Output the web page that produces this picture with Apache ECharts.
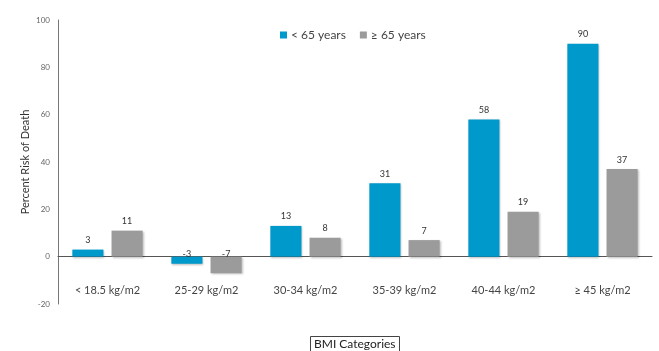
<!DOCTYPE html>
<html><head><meta charset="utf-8">
<script src="https://cdn.jsdelivr.net/npm/echarts@6/dist/echarts.min.js"></script>
<style>html,body{margin:0;padding:0;background:#fff}#c{width:659px;height:351px}</style>
</head><body><div id="c"></div>
<script>
const categories = ['< 18.5 kg/m2','25-29 kg/m2','30-34 kg/m2','35-39 kg/m2','40-44 kg/m2','≥ 45 kg/m2'];
const under65 = [3,-3,13,31,58,90];
const over65 = [11,-7,8,7,19,37];
const yTicks = [-20,0,20,40,60,80,100];
const seriesNames = ['< 65 years','≥ 65 years'];

const font = 'Lato, "Open Sans", sans-serif';
function mk(vals){
  return vals.map(v => v < 0 ? {value:v, label:{position:'top', distance:-2}} : v);
}
const chart = echarts.init(document.getElementById('c'));
chart.setOption({
  animation:false,
  textStyle:{fontFamily:font},
  title:{text:'BMI Categories', left:310, top:336, padding:[2,4,2,4], borderWidth:1, borderColor:'#444',
    textStyle:{fontSize:12, fontWeight:'normal', color:'#222', fontFamily:font}},
  legend:{data:seriesNames, left:275, top:24, itemWidth:7, itemHeight:7, itemGap:14, icon:'rect',
    textStyle:{fontSize:12, color:'#444', fontFamily:font, padding:[0,0,0,-1]}},
  grid:{left:58, right:7, top:20, bottom:47, containLabel:false, outerBoundsMode:'none'},
  xAxis:[
    {type:'category', data:categories, axisLine:{onZero:true, lineStyle:{color:'#555', width:1}},
     axisTick:{show:false}, axisLabel:{show:false}},
    {type:'category', data:categories, position:'bottom', axisLine:{show:false, onZero:false}, axisTick:{show:false},
     axisLabel:{margin:-19, fontSize:11, color:'#444', fontFamily:font}}
  ],
  yAxis:{type:'value', min:yTicks[0], max:yTicks[yTicks.length-1], interval:20,
    name:'Percent Risk of Death', nameLocation:'middle', nameGap:27, nameRotate:90, nameMoveOverlap:false,
    nameTextStyle:{fontSize:11, color:'#333', fontFamily:font},
    axisLine:{show:true, lineStyle:{color:'#777'}}, axisTick:{show:false}, splitLine:{show:false},
    axisLabel:{fontSize:8, color:'#666', margin:8, fontFamily:font}},
  series:[
    {name:seriesNames[0], type:'bar', data:mk(under65), barGap:'26%', barCategoryGap:'29%',
     itemStyle:{color:'#0099CC', shadowBlur:2, shadowColor:'rgba(0,0,0,0.25)', shadowOffsetX:1, shadowOffsetY:1},
     label:{show:true, position:'top', distance:5, fontSize:9, color:'#333', fontFamily:font}},
    {name:seriesNames[1], type:'bar', data:mk(over65),
     itemStyle:{color:'#9B9B9B', shadowBlur:2, shadowColor:'rgba(0,0,0,0.25)', shadowOffsetX:1, shadowOffsetY:1},
     label:{show:true, position:'top', distance:5, fontSize:9, color:'#333', fontFamily:font}}
  ]
});
</script></body></html>
